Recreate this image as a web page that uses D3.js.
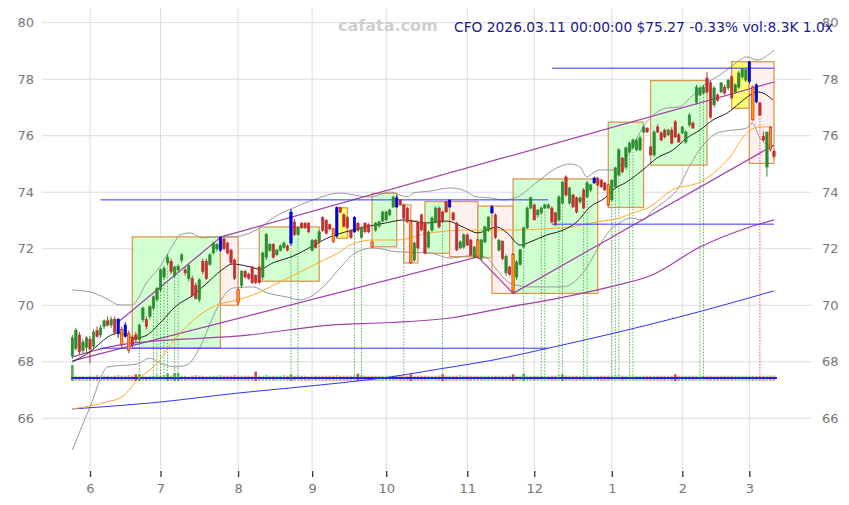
<!doctype html>
<html lang="en">
<head>
<meta charset="utf-8">
<title>CFO daily</title>
<script src="https://cdn.jsdelivr.net/npm/d3@7"></script>
<style>
  body { margin: 0; background: #fff; }
  svg { display: block; font-family: "DejaVu Sans", sans-serif; }
</style>
</head>
<body>
<svg id="chart" width="849" height="505"></svg>
<script>
// bar index of first trading day of each month, and its label
const monthTicks = [5, 25, 47, 68, 89, 112, 131, 153, 173, 192];
const monthLabels = ["6", "7", "8", "9", "10", "11", "12", "1", "2", "3"];
const priceTicks = [66, 68, 70, 72, 74, 76, 78, 80];

// daily bars [open, high, low, close], 2025-05-23 .. 2026-03-11
const bars = [
  [68.20,68.95,68.10,68.85],[68.47,69.20,68.40,69.12],[68.95,69.05,68.25,68.35],[68.40,68.80,68.30,68.70],[68.50,68.90,68.35,68.85],
  [68.80,68.90,67.95,68.45],[68.55,69.15,68.45,69.05],[69.10,69.25,68.85,68.90],[68.95,69.30,68.85,69.20],[69.25,69.50,69.15,69.45],
  [69.45,69.60,69.25,69.30],[69.30,69.60,69.20,69.50],[69.50,69.60,68.95,69.05],[69.00,69.55,68.85,69.50],[69.15,69.25,68.50,68.60],
  [68.90,69.40,68.85,69.30],[69.00,69.10,68.30,68.40],[68.85,68.95,68.50,68.60],[68.95,69.05,68.70,68.78],[68.78,69.35,68.70,69.30],
  [69.50,69.95,69.40,69.90],[69.50,69.60,69.15,69.25],[69.60,70.00,69.50,69.95],[69.90,70.35,69.80,70.30],[70.20,70.65,70.10,70.60],
  [70.55,71.30,70.45,71.25],[71.00,71.40,70.90,71.30],[71.50,71.80,71.40,71.70],[71.55,71.65,71.10,71.20],[71.05,71.40,70.95,71.35],
  [71.25,71.45,71.15,71.38],[71.60,71.85,71.50,71.78],[71.25,71.35,71.05,71.15],[70.95,71.45,70.85,71.40],[70.95,71.05,70.30,70.35],
  [70.70,70.80,70.20,70.25],[70.20,70.95,70.10,70.90],[71.55,71.65,71.10,71.20],[71.55,71.65,70.90,70.95],[71.45,71.85,71.40,71.78],
  [71.85,72.25,71.80,72.20],[72.00,72.20,71.90,72.15],[71.95,72.42,71.90,72.40],[72.35,72.40,71.95,72.00],[72.20,72.25,71.80,71.85],
  [71.95,72.00,71.45,71.50],[71.60,71.65,70.90,70.95],[70.55,70.60,70.00,70.10],[70.70,71.25,70.60,71.20],[71.20,71.25,70.95,71.00],
  [71.10,71.15,70.90,70.95],[71.35,71.40,70.75,70.80],[71.05,71.10,70.75,70.80],[71.35,71.40,70.75,70.80],[71.00,71.90,70.90,71.85],
  [71.70,72.55,71.60,72.50],[71.95,72.20,71.90,72.15],[72.15,72.20,71.65,71.70],[71.80,72.00,71.75,71.95],[71.95,72.15,71.90,72.10],
  [72.05,72.25,72.00,72.20],[72.10,72.15,71.90,71.95],[72.20,73.40,72.10,73.30],[72.95,73.05,72.45,72.50],[72.50,72.80,72.45,72.75],
  [72.90,72.95,72.70,72.75],[72.90,72.95,72.70,72.75],[72.90,72.95,72.55,72.60],[71.95,72.35,71.90,72.30],[72.30,72.35,72.00,72.05],
  [72.25,72.65,72.20,72.60],[73.10,73.15,72.60,72.65],[73.00,73.05,72.50,72.55],[72.85,72.90,72.65,72.70],[72.70,72.75,72.20,72.25],
  [72.45,73.50,72.40,73.45],[73.45,73.50,73.25,73.30],[73.20,73.25,72.75,72.80],[73.10,73.15,72.70,72.75],[72.65,72.70,72.35,72.40],
  [72.60,73.15,72.55,73.10],[72.90,72.95,72.60,72.65],[72.40,72.80,72.35,72.75],[72.90,72.95,72.55,72.60],[72.85,72.90,72.55,72.60],
  [72.24,72.28,72.02,72.07],[72.66,72.95,72.60,72.91],[72.80,73.00,72.75,72.95],[72.98,73.35,72.94,73.30],[73.02,73.35,72.98,73.30],
  [73.20,73.42,73.15,73.37],[73.48,73.88,73.44,73.83],[73.48,73.90,73.45,73.80],[73.73,73.76,73.52,73.55],[73.55,73.60,73.05,73.09],
  [73.44,73.48,72.92,72.95],[72.95,73.00,71.45,71.50],[71.60,72.25,71.55,72.20],[72.91,72.95,71.98,72.03],[73.20,73.25,72.62,72.66],
  [72.91,72.95,71.80,71.85],[72.06,72.65,72.00,72.59],[72.66,73.15,72.60,73.09],[72.95,73.50,72.90,73.44],[73.44,73.50,72.72,72.77],
  [73.30,73.35,72.90,72.95],[73.66,73.70,73.28,73.30],[73.48,73.75,73.45,73.72],[73.27,73.30,73.00,73.02],[72.91,72.95,71.92,71.96],
  [72.03,72.30,71.98,72.24],[72.06,72.55,72.00,72.49],[72.49,72.55,72.10,72.13],[72.31,72.35,71.75,71.78],[71.71,72.10,71.65,72.06],
  [72.31,72.35,71.65,71.71],[71.67,72.35,71.60,72.31],[72.24,72.82,72.20,72.77],[72.66,73.15,72.60,73.12],[73.27,73.55,73.25,73.48],
  [73.20,73.25,72.35,72.40],[71.95,72.35,71.90,72.30],[72.25,72.30,71.60,71.65],[71.15,71.80,71.05,71.72],[71.35,71.40,71.05,71.10],
  [71.80,71.85,70.42,70.50],[71.00,71.60,70.90,71.53],[71.45,72.00,71.40,71.96],[72.06,72.78,72.00,72.74],[72.74,73.50,72.70,73.44],
  [73.44,73.85,73.40,73.80],[73.55,73.60,73.00,73.02],[73.20,73.40,73.10,73.37],[73.27,73.50,73.20,73.44],[73.44,73.60,73.40,73.55],
  [73.45,73.60,73.40,73.55],[73.44,73.50,72.90,72.95],[73.27,73.30,72.80,72.84],[73.02,73.90,72.95,73.83],[73.62,74.40,73.55,74.36],
  [74.54,74.60,73.85,73.90],[73.62,74.20,73.55,74.15],[73.90,73.95,73.45,73.48],[73.80,73.85,73.25,73.30],[73.66,73.85,73.60,73.80],
  [74.08,74.15,73.40,73.44],[73.83,74.40,73.78,74.33],[74.08,74.30,74.00,74.26],[74.33,74.55,74.30,74.50],[74.50,74.55,74.20,74.26],
  [74.43,74.48,74.15,74.19],[74.33,74.36,74.05,74.08],[74.26,74.30,73.50,73.55],[73.73,74.45,73.65,74.43],[74.19,74.90,74.10,74.86],
  [74.61,75.55,74.55,75.50],[75.21,75.25,74.68,74.72],[74.89,75.62,74.80,75.57],[75.42,75.80,75.38,75.74],[75.57,75.90,75.50,75.85],
  [75.50,75.90,75.45,75.85],[75.50,76.00,75.45,75.92],[76.13,76.35,76.10,76.31],[76.27,76.30,76.10,76.13],[75.60,75.65,75.30,75.32],
  [75.32,76.20,75.25,76.13],[76.31,76.40,76.10,76.13],[76.10,76.15,75.80,75.85],[76.20,76.25,75.90,75.96],[76.03,76.25,75.98,76.20],
  [76.20,76.30,75.70,75.74],[76.49,76.55,75.92,75.96],[76.03,76.10,75.75,75.78],[76.10,76.35,76.05,76.31],[75.78,76.20,75.70,76.13],
  [76.38,76.80,76.30,76.73],[76.45,76.50,76.25,76.27],[77.19,77.80,77.10,77.72],[77.44,77.75,77.40,77.69],[77.51,77.80,77.45,77.72],
  [78.04,78.25,77.50,77.55],[77.87,77.95,76.60,76.66],[77.09,77.75,77.00,77.69],[77.44,77.50,77.20,77.26],[77.55,77.90,77.50,77.87],
  [77.72,77.80,77.45,77.51],[77.69,78.00,77.60,77.97],[78.08,78.15,77.30,77.34],[77.55,77.85,77.50,77.80],[77.72,78.30,77.65,78.22],
  [78.08,78.40,78.00,78.36],[77.97,78.40,77.90,78.33],[77.92,78.65,77.85,78.61],[77.72,77.78,76.53,76.56],[77.20,77.85,77.15,77.80],
  [77.16,77.20,76.70,76.73],[75.97,76.15,75.80,75.85],[74.89,76.15,74.55,76.13],[76.30,76.35,75.45,75.52],[75.45,75.50,75.20,75.27]
];

// daily volume, thousands of shares
const volumes = [
  24,8,7,8,7,8,7,9,8,8, 8,7,8,9,8,8,9,8,10,10, 8,7,8,8,9,8,9,11,8,12, 12,8,8,7,8,9,8,8,7,8,
  8,8,9,8,8,8,9,8,8,8, 8,8,14,8,8,9,8,8,8,8, 9,8,10,8,9,8,8,7,8,8, 8,8,8,8,8,9,8,8,8,8,
  9,11,9,8,8,8,8,8,8,8, 8,8,9,8,8,8,10,8,8,8, 8,8,8,8,8,10,8,8,8,8, 9,8,8,8,8,8,8,8,8,8,
  8,8,8,8,8,10,8,8,11,8, 8,8,8,8,8,8,8,8,9,10, 8,8,8,8,8,8,8,8,8,8, 8,8,8,8,8,9,8,8,8,8,
  8,8,8,8,8,8,8,8,8,8, 8,10,8,8,8,8,8,8,8,8, 8,8,8,8,8,8,8,8,8,8, 8,8,8,8,8,8,8,8,8,8.3
];

// highlighted bars
const blueBars = [13, 15, 42, 62, 75, 80, 92, 107, 119, 148, 192, 194];
const orangeBars = [14, 16, 47, 74, 85, 96, 115, 125, 152, 193, 198];
const greenMarks = [19, 23, 24, 25, 26, 27, 29, 30, 62, 64, 80, 82, 94, 105, 128, 133, 134, 138, 139, 145, 146, 153, 154, 155, 158, 159, 178, 179];
const redMarks = [195];

// [bar index, price] knots
const ma20 = [[0,68.0],[5,68.35],[10.1,68.88],[12.9,69.02],[17.8,68.84],[20.6,68.91],[25.4,69.44],[29.1,69.94],[34.2,70.36],[37.6,70.72],[42.4,71.25],[45.3,71.46],[50.4,71.36],[53.2,71.28],[56.9,71.5],[62.6,71.74],[68.2,72.1],[73.1,72.42],[77.3,72.59],[83,72.77],[88.7,72.91],[94.3,73.02],[100,72.91],[106.3,72.98],[110.8,72.77],[115,72.56],[117.6,72.66],[120.4,72.77],[123.3,72.56],[127,72.13],[129.8,72.24],[134.6,72.49],[139.2,72.66],[143.1,72.95],[146.8,73.48],[151.1,73.8],[153.3,74.08],[157.2,74.36],[161.8,74.79],[165.8,75.21],[170.4,75.5],[174.3,75.92],[178,76.2],[181.7,76.56],[185.7,76.8],[189.3,77.16],[192.2,77.44],[194.2,77.55],[195.9,77.51],[198.7,77.26]];
const ma50 = [[0,66.33],[9.8,66.58],[14.1,66.76],[19.2,67.46],[22,67.71],[24.8,68.06],[26.8,68.42],[31.4,69.13],[36.2,69.66],[41,70.01],[47,70.19],[53.2,70.47],[58.9,70.83],[64.6,71.18],[70.2,71.53],[75.9,71.89],[78.7,72.13],[85.3,72.31],[92.1,72.31],[101.4,72.56],[112.8,72.66],[124.1,72.66],[133.5,72.7],[141.2,72.77],[148.8,72.95],[155.3,73.09],[159,73.27],[163.8,73.48],[170.1,74.08],[178,74.36],[186.5,75.25],[191.3,76.1],[195,76.31],[198.7,76.31]];
const ma200 = [[0,66.33],[22,66.54],[47.5,66.9],[75.9,67.25],[90.1,67.46],[104.3,67.75],[119.3,68.06],[135.3,68.49],[152.5,68.98],[172.3,69.59],[199,70.51]];
const bbUpper = [[0,70.54],[5,70.47],[9.3,70.26],[13.5,70.01],[16.9,70.01],[21.2,70.83],[24.8,71.36],[28.5,72.13],[30.5,72.49],[33.4,72.56],[37,72.38],[41,72.42],[45.6,72.42],[50.4,72.56],[53.2,72.74],[56.9,73.09],[62.6,73.44],[68.3,73.73],[75.9,73.97],[84.4,73.83],[90.1,74.01],[95.2,73.83],[96.6,73.97],[101.4,74.04],[107.1,74.15],[110.8,74.08],[114.8,73.83],[118.5,73.8],[122.2,73.73],[126.1,73.83],[131.8,74.36],[137.4,74.86],[141.1,75.0],[144,74.89],[145.9,74.54],[147.7,74.68],[149.6,74.79],[153.3,74.79],[158.1,75.42],[161.9,76.31],[168.6,76.98],[172.3,77.02],[175.2,77.34],[179.9,77.87],[183.7,78.15],[187.4,78.5],[191.3,78.79],[194.2,78.68],[199,79.03]];
const bbLower = [[0,64.88],[5,66.4],[10.1,67.82],[18.3,67.92],[22,68.13],[24.8,67.96],[29.1,67.82],[32.5,67.89],[36.2,68.52],[39.9,69.59],[42.7,70.29],[45.6,70.61],[51.2,70.65],[55.2,70.44],[60.9,70.29],[64.6,70.19],[68.3,70.36],[71.7,70.72],[75.9,71.32],[80.2,71.85],[85.3,72.03],[92.1,71.89],[101.4,71.85],[107.1,71.67],[114.8,71.78],[117.6,71.67],[120.4,71.25],[124.1,70.79],[129.8,70.65],[139.2,70.65],[144.8,71.14],[149.6,72.13],[152.5,72.66],[155.3,72.91],[158.1,73.09],[161.8,73.02],[164.7,73.37],[168.6,73.73],[171.5,74.08],[175.2,74.96],[178.9,75.67],[183.7,76.13],[191.3,76.27],[192.8,76.45],[195,75.92],[199,75.6]];
const trendUpper = [[13,69.41],[42.2,72.42],[199,77.9]];
const trendLower = [[0,68.03],[115,71.71],[125,70.42],[199,75.67]];
const trendLong = [[0,68.17],[13.5,68.6],[50.4,68.95],[73.1,69.3],[90.1,69.39],[107.1,69.55],[122.1,69.9],[138.3,70.26],[152.5,70.65],[164.4,71.07],[178,72.06],[192.2,72.77],[199,73.02]];

// horizontal levels [from bar, to bar, price]
const levels = [[8, 135, 73.73], [8, 135, 68.48], [136, 199, 72.87], [136, 199, 78.39]];

// boxes [from bar, to bar, low, high, kind]
const boxes = [
  [17, 42, 68.49, 72.42, "up"], [42, 47, 70.0, 72.42, "down"], [53, 70, 70.85, 72.77, "up"],
  [75, 78, 72.37, 73.45, "flat"], [85, 92, 72.07, 73.96, "up"], [94, 96, 71.5, 73.55, "down"],
  [96, 98, 71.5, 72.98, "down"], [100, 107, 71.84, 73.67, "up"], [107, 115, 71.72, 73.67, "down"],
  [115, 119, 71.68, 73.51, "up"], [119, 125, 70.42, 73.51, "down"], [125, 149, 70.42, 74.47, "up"],
  [152, 162, 73.46, 76.48, "up"], [164, 180, 74.96, 77.95, "up"], [187, 192, 76.97, 78.62, "flat"],
  [192, 199, 75.02, 78.62, "down"]
];

const title = "CFO 2026.03.11 00:00:00 $75.27 -0.33% vol:8.3K 1.0x";

const svg = d3.select("#chart");
const x = d3.scaleLinear().domain([0, bars.length - 1]).range([72.37, 774.0]);
const y = d3.scaleLinear().domain([64.17, 80.52]).range([470, 8]);
const yv = d3.scaleLinear().domain([0, 24]).range([381, 365]);

// grid
svg.append("g").selectAll("line").data(priceTicks).enter().append("line")
  .attr("x1", 42).attr("x2", 812)
  .attr("y1", d => y(d)).attr("y2", d => y(d))
  .attr("stroke", "#dcdcdc").attr("stroke-width", 1);
svg.append("g").selectAll("line").data(monthTicks).enter().append("line")
  .attr("x1", d => x(d)).attr("x2", d => x(d))
  .attr("y1", 8).attr("y2", 470)
  .attr("stroke", "#dcdcdc").attr("stroke-width", 1);

// boxes
const boxFill = {up: "#ccffcc", down: "#ffeeee", flat: "#ffff66"};
svg.append("g").selectAll("rect").data(boxes).enter().append("rect")
  .attr("x", d => x(d[0])).attr("width", d => x(d[1]) - x(d[0]))
  .attr("y", d => y(d[3])).attr("height", d => y(d[2]) - y(d[3]))
  .attr("fill", d => boxFill[d[4]]).attr("fill-opacity", 0.9)
  .attr("stroke", "#dd9955").attr("stroke-width", 1.3);

// volume
svg.append("g").selectAll("rect").data(volumes).enter().append("rect")
  .attr("x", (d, i) => x(i) - 1.3).attr("width", 2.6)
  .attr("y", d => yv(d)).attr("height", d => yv(0) - yv(d))
  .attr("fill", (d, i) => bars[i][3] >= bars[i][0] ? "#33a033" : "#c0303a")
  .attr("fill-opacity", d => d >= 10 ? 0.85 : 0.45);
svg.append("line")
  .attr("x1", x(0) - 1).attr("x2", x(bars.length - 1) + 3)
  .attr("y1", yv(4.5)).attr("y2", yv(4.5))
  .attr("stroke", "#2222ee").attr("stroke-width", 2);

// signal markers down to the volume band
const marks = greenMarks.map(i => [i, "#44aa44"]).concat(redMarks.map(i => [i, "#dd4444"]));
svg.append("g").selectAll("line").data(marks).enter().append("line")
  .attr("x1", d => x(d[0])).attr("x2", d => x(d[0]))
  .attr("y1", d => y(bars[d[0]][2]) + 2).attr("y2", yv(4.5))
  .attr("stroke", d => d[1]).attr("stroke-width", 0.9).attr("stroke-dasharray", "1.5,1.5");

// lines
const smooth = d3.line().x(d => x(d[0])).y(d => y(d[1])).curve(d3.curveMonotoneX);
const straight = d3.line().x(d => x(d[0])).y(d => y(d[1]));
const drawLine = (data, gen, color, w) => svg.append("path").datum(data)
  .attr("d", gen).attr("fill", "none").attr("stroke", color).attr("stroke-width", w);

drawLine(bbUpper, smooth, "#999", 1);
drawLine(bbLower, smooth, "#999", 1);
drawLine(ma200, smooth, "#3333ff", 1);
drawLine(trendLong, smooth, "#a040a8", 1.2);
drawLine(trendUpper, straight, "#a040a8", 1.2);
drawLine(trendLower, straight, "#a040a8", 1.2);
drawLine(ma50, smooth, "#ffaa22", 1);
drawLine(ma20, smooth, "#222", 1);

svg.append("g").selectAll("line").data(levels).enter().append("line")
  .attr("x1", d => x(d[0])).attr("x2", d => x(d[1]))
  .attr("y1", d => y(d[2])).attr("y2", d => y(d[2]))
  .attr("stroke", "#3333ff").attr("stroke-width", 1);

// candles
function candleColor(i) {
  if (blueBars.includes(i)) return ["#0000ee", "#0000aa"];
  if (orangeBars.includes(i)) return ["#ff9900", "#cc2222"];
  const b = bars[i];
  return b[3] >= b[0] ? ["#2e8b2e", "#2e8b2e"] : ["#c0302e", "#c0302e"];
}
const candle = svg.append("g").selectAll("g").data(bars).enter().append("g");
candle.append("line")
  .attr("x1", (d, i) => x(i)).attr("x2", (d, i) => x(i))
  .attr("y1", d => y(d[1])).attr("y2", d => y(d[2]))
  .attr("stroke", (d, i) => candleColor(i)[1]).attr("stroke-width", 1);
candle.append("rect")
  .attr("x", (d, i) => x(i) - 1.2).attr("width", 2.4)
  .attr("y", d => y(Math.max(d[0], d[3])))
  .attr("height", d => Math.max(1, Math.abs(y(d[0]) - y(d[3]))))
  .attr("fill", (d, i) => candleColor(i)[0])
  .attr("stroke", (d, i) => candleColor(i)[1]).attr("stroke-width", 0.6);

// axes
const xAxis = svg.append("g").attr("transform", "translate(0,471)")
  .call(d3.axisBottom(x).tickValues(monthTicks).tickSize(6).tickPadding(7)
    .tickFormat((d, i) => monthLabels[i]));
xAxis.select(".domain").remove();
xAxis.selectAll("line").attr("stroke", "#333").attr("stroke-width", 1.3);
xAxis.selectAll("text").attr("fill", "#777").style("font-size", "13px").style("font-family", "DejaVu Sans");

const yRight = svg.append("g").attr("transform", "translate(812,0)")
  .call(d3.axisRight(y).tickValues(priceTicks).tickSize(0).tickPadding(10));
const yLeft = svg.append("g").attr("transform", "translate(42,0)")
  .call(d3.axisLeft(y).tickValues(priceTicks).tickSize(0).tickPadding(8));
[yRight, yLeft].forEach(a => {
  a.select(".domain").remove();
  a.selectAll("text").attr("fill", "#777").style("font-size", "13px").style("font-family", "DejaVu Sans");
});

// watermark and header
svg.append("text").attr("x", 338).attr("y", 31)
  .attr("fill", "#cfcfcf").style("font-size", "16px").style("font-weight", "bold")
  .text("cafata.com");
svg.append("text").attr("x", 454).attr("y", 31.5)
  .attr("fill", "#1a1a8c").style("font-size", "13.8px")
  .text(title);
</script>
</body>
</html>
